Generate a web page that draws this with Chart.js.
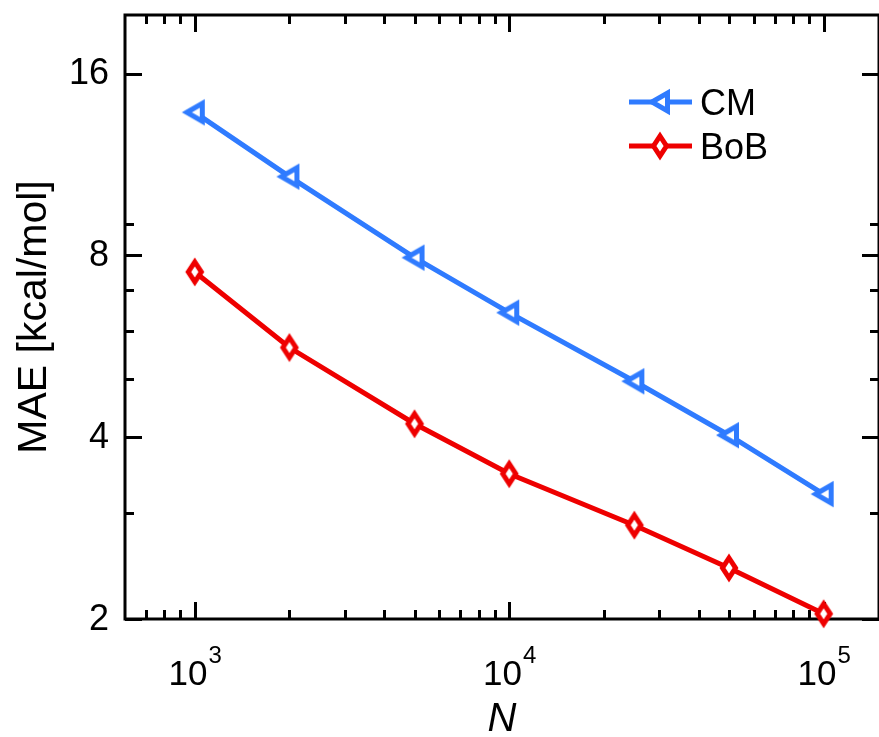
<!DOCTYPE html>
<html>
<head>
<meta charset="utf-8">
<script src="https://cdn.jsdelivr.net/npm/chart.js@4.4.1/dist/chart.umd.min.js"></script>
<style>
  html, body { margin: 0; padding: 0; background: #fff; overflow: hidden; }
  #wrap { width: 894px; height: 737px; }
</style>
</head>
<body>
<div id="wrap"><canvas id="chart" width="894" height="737"></canvas></div>
<script>
// data
const trainSizes = [1000, 2000, 5000, 10000, 25000, 50000, 100000];
const maeCM = [13.8, 10.8, 7.93, 6.43, 4.95, 4.03, 3.22];
const maeBoB = [7.51, 5.63, 4.21, 3.48, 2.86, 2.43, 2.04];
const seriesNames = ['CM', 'BoB'];

// axes
const xMajorTicks = [1000, 10000, 100000];
const xTickExponents = ['3', '4', '5'];
const xMinorTicks = [700, 800, 900, 2000, 3000, 4000, 5000, 6000, 7000, 8000, 9000,
  20000, 30000, 40000, 50000, 60000, 70000, 80000, 90000];
const yMajorTicks = [2, 4, 8, 16];
const yTickLabels = ['2', '4', '8', '16'];
const yMinorTicks = [3, 5, 6, 7, 9];

const FONT = "'Liberation Sans', Arial, sans-serif";
const BLUE = '#2f7bff';
const RED = '#ee0000';

// hollow markers as small canvases
function triangleLeft(color) {
    const c = document.createElement('canvas');
    c.width = 32; c.height = 32;
    const g = c.getContext('2d');
    g.beginPath();
    g.moveTo(16 - 8, 16);
    g.lineTo(16 + 7.5, 16 - 9);
    g.lineTo(16 + 7.5, 16 + 9);
    g.closePath();
    g.fillStyle = '#fff';
    g.fill();
    g.lineWidth = 5;
    g.lineJoin = 'miter';
    g.strokeStyle = color;
    g.stroke();
    return c;
}

function diamond(color) {
    const c = document.createElement('canvas');
    c.width = 28; c.height = 34;
    const g = c.getContext('2d');
    g.beginPath();
    g.moveTo(14, 17 - 10);
    g.lineTo(14 + 6.5, 17);
    g.lineTo(14, 17 + 10);
    g.lineTo(14 - 6.5, 17);
    g.closePath();
    g.fillStyle = '#fff';
    g.fill();
    g.lineWidth = 5;
    g.strokeStyle = color;
    g.stroke();
    return c;
}

const cmMarker = triangleLeft(BLUE);
const bobMarker = diamond(RED);

const framePlugin = {
    id: 'frame',
    beforeDatasetsDraw(chart) {
        const { ctx, chartArea: a, scales: { x, y } } = chart;
        ctx.save();
        ctx.strokeStyle = '#000';
        ctx.lineWidth = 3;
        ctx.strokeRect(a.left, a.top, a.right - a.left, a.bottom - a.top);

        // inward ticks on all four sides
        const xt = [...xMajorTicks.map(v => [v, 17]), ...xMinorTicks.map(v => [v, 9])];
        xt.forEach(([v, len]) => {
            const px = Math.round(x.getPixelForValue(v)) + 0.5;
            ctx.beginPath();
            ctx.moveTo(px, a.bottom); ctx.lineTo(px, a.bottom - len);
            ctx.moveTo(px, a.top); ctx.lineTo(px, a.top + len);
            ctx.stroke();
        });
        const yt = [...yMajorTicks.map(v => [v, 17]), ...yMinorTicks.map(v => [v, 9])];
        yt.forEach(([v, len]) => {
            const py = Math.round(y.getPixelForValue(v)) + 0.5;
            ctx.beginPath();
            ctx.moveTo(a.left, py); ctx.lineTo(a.left + len, py);
            ctx.moveTo(a.right, py); ctx.lineTo(a.right - len, py);
            ctx.stroke();
        });

        ctx.fillStyle = '#000';
        // y labels
        ctx.font = `36px ${FONT}`;
        ctx.textAlign = 'right';
        ctx.textBaseline = 'middle';
        yMajorTicks.forEach((v, i) => {
            ctx.fillText(yTickLabels[i], a.left - 16, y.getPixelForValue(v) + 1);
        });

        // x labels as 10 with a raised exponent
        ctx.textBaseline = 'alphabetic';
        ctx.textAlign = 'left';
        xMajorTicks.forEach((v, i) => {
            const px = x.getPixelForValue(v);
            ctx.font = `35px ${FONT}`;
            const wBase = ctx.measureText('10').width;
            ctx.font = `24px ${FONT}`;
            const wExp = ctx.measureText(xTickExponents[i]).width;
            const left = px - (wBase + wExp) / 2;
            ctx.font = `35px ${FONT}`;
            ctx.fillText('10', left, 685);
            ctx.font = `24px ${FONT}`;
            ctx.fillText(xTickExponents[i], left + wBase + 1, 663);
        });
        ctx.restore();
    },
    afterDraw(chart) {
        const { ctx } = chart;
        ctx.save();
        chart.data.datasets.forEach((ds, i) => {
            const ly = 102 + i * 44;
            ctx.strokeStyle = ds.borderColor;
            ctx.lineWidth = 5;
            ctx.beginPath();
            ctx.moveTo(629, ly); ctx.lineTo(692, ly);
            ctx.stroke();
            const m = ds.pointStyle;
            ctx.drawImage(m, 660 - m.width / 2, ly - m.height / 2);
            ctx.fillStyle = '#000';
            ctx.font = `36px ${FONT}`;
            ctx.textBaseline = 'alphabetic';
            ctx.fillText(ds.label, 700, ly + 13);
        });
        ctx.restore();
    }
};

new Chart(document.getElementById('chart'), {
    type: 'line',
    data: {
        labels: trainSizes,
        datasets: [{
            label: seriesNames[0],
            data: trainSizes.map((n, i) => ({ x: n, y: maeCM[i] })),
            borderColor: BLUE,
            backgroundColor: BLUE,
            borderWidth: 5,
            pointStyle: cmMarker,
            pointRadius: 10,
            tension: 0,
            clip: false
        }, {
            label: seriesNames[1],
            data: trainSizes.map((n, i) => ({ x: n, y: maeBoB[i] })),
            borderColor: RED,
            backgroundColor: RED,
            borderWidth: 5,
            pointStyle: bobMarker,
            pointRadius: 10,
            tension: 0,
            clip: false
        }]
    },
    options: {
        responsive: false,
        animation: false,
        layout: { padding: { left: 0, top: 10, right: 8, bottom: 0 } },
        plugins: {
            legend: { display: false },
            tooltip: { enabled: false }
        },
        scales: {
            x: {
                type: 'logarithmic',
                min: 600,
                max: 150000,
                grid: { display: false },
                border: { display: false },
                ticks: { display: false },
                title: {
                    display: true,
                    text: 'N',
                    color: '#000',
                    font: { family: FONT, size: 40, style: 'italic', lineHeight: 1 },
                    padding: { top: 0, bottom: -3 }
                },
                afterFit: s => { s.height = 118; }
            },
            y: {
                type: 'logarithmic',
                min: 2,
                max: 20,
                grid: { display: false },
                border: { display: false },
                ticks: { display: false },
                title: {
                    display: true,
                    text: 'MAE [kcal/mol]',
                    color: '#000',
                    font: { family: FONT, size: 41, lineHeight: 1.2 },
                    padding: { top: 10, bottom: 0 }
                },
                afterFit: s => { s.width = 125; }
            }
        }
    },
    plugins: [framePlugin]
});
</script>
</body>
</html>
